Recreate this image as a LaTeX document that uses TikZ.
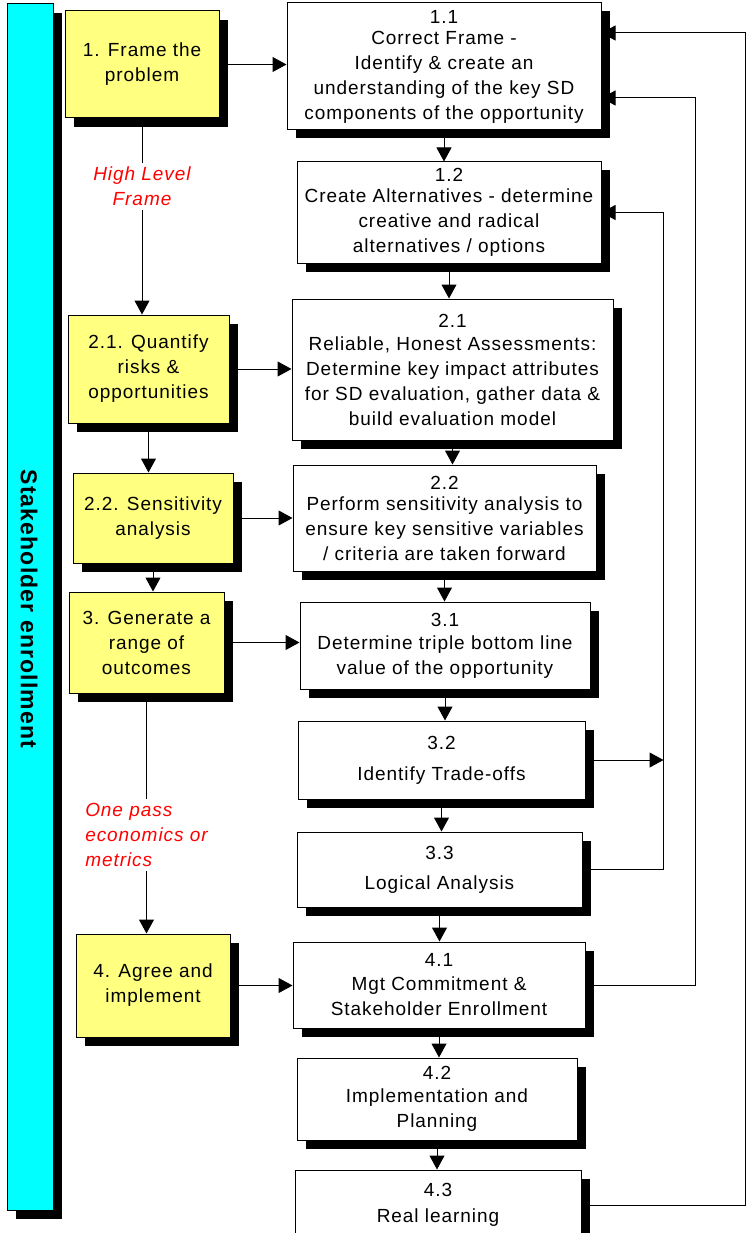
\documentclass[tikz,border=0pt]{standalone}
\usepackage{fontspec}
\setmainfont{Liberation Sans}[LetterSpace=5]
\usetikzlibrary{arrows.meta,shadows}
\definecolor{boxyellow}{RGB}{255,255,128}
\definecolor{barcyan}{RGB}{0,255,255}
\definecolor{notered}{RGB}{255,0,0}
\begin{document}
\begin{tikzpicture}[x=1pt,y=-1pt,
  txt/.style={font=\fontsize{19}{25}\selectfont, align=center, inner sep=0pt},
  ybox/.style={txt, draw=black, line width=1pt, fill=boxyellow,
    drop shadow={shadow xshift=9pt, shadow yshift=-9pt, fill=black, opacity=1}},
  wbox/.style={txt, draw=black, line width=1pt, fill=white,
    drop shadow={shadow xshift=8.5pt, shadow yshift=-8.5pt, fill=black, opacity=1}},
  barbox/.style={draw=black, line width=1pt, fill=barcyan,
    drop shadow={shadow xshift=9pt, shadow yshift=-9pt, fill=black, opacity=1}},
  arr/.style={-{Triangle[length=14pt,width=15pt]}, line width=1pt, line join=miter},
  note/.style={font=\fontsize{19}{25}\selectfont\itshape, text=notered, fill=white, inner sep=4pt}
]
\useasboundingbox (0,0) rectangle (751,1233);
\clip (0,0) rectangle (751,1233);

% side bar
\node[barbox, minimum width=46pt, minimum height=1206pt] (bar) at (30,607) {};
\node[rotate=-90, font=\fontsize{23}{28}\selectfont\bfseries] (barlabel) at (29,609) {Stakeholder enrollment};

% process steps (left column)
\node[ybox, minimum width=154pt, minimum height=107pt] (Y1)  at (142,64.5)   {1. Frame the\\problem};
\node[ybox, minimum width=161pt, minimum height=108pt] (Y21) at (148.5,369)  {2.1. Quantify\\risks \&\\opportunities};
\node[ybox, minimum width=160pt, minimum height=90pt]  (Y22) at (153,518)    {2.2. Sensitivity\\analysis};
\node[ybox, minimum width=155pt, minimum height=101pt] (Y3)  at (146.5,642.5){3. Generate a\\range of\\outcomes};
\node[ybox, minimum width=154pt, minimum height=103pt] (Y4)  at (153,985.5)  {4. Agree and\\implement};

% detailed activities (right column)
\node[wbox, minimum width=314pt, minimum height=127pt] (W11) at (444,66.5)
  {1.1\\[-4pt]Correct Frame -\\Identify \& create an\\understanding of the key SD\\components of the opportunity};
\node[wbox, minimum width=304pt, minimum height=101pt] (W12) at (449,212.5)
  {1.2\\[-4pt]Create Alternatives - determine\\creative and radical\\alternatives / options};
\node[wbox, minimum width=321pt, minimum height=141pt] (W21) at (452.5,369.5)
  {2.1\\[-2pt]Reliable, Honest Assessments:\\Determine key impact attributes\\for SD evaluation, gather data \&\\build evaluation model};
\node[wbox, minimum width=303pt, minimum height=106pt] (W22) at (444.5,518)
  {2.2\\[-4pt]Perform sensitivity analysis to\\ensure key sensitive variables\\/ criteria are taken forward};
\node[wbox, minimum width=290pt, minimum height=87pt] (W31) at (445,645.5)
  {3.1\\[-2pt]Determine triple bottom line\\value of the opportunity};
\node[wbox, minimum width=287pt, minimum height=78pt] (W32) at (441.5,760)
  {3.2\\[6pt]Identify Trade-offs};
\node[wbox, minimum width=285pt, minimum height=75pt] (W33) at (439.5,869.5)
  {3.3\\[5pt]Logical Analysis};
\node[wbox, minimum width=292pt, minimum height=86pt] (W41) at (439,985)
  {4.1\\[-1pt]Mgt Commitment \&\\Stakeholder Enrollment};
\node[wbox, minimum width=280pt, minimum height=82pt] (W42) at (437,1099)
  {4.2\\[-2pt]Implementation and\\Planning};
\node[wbox, minimum width=286pt, minimum height=70pt] (W43) at (438,1205)
  {4.3\\[1pt]Real learning};

% left column flow
\draw[arr] (Y1.south) -- node[note, pos=0.345, align=center] (n1) {High Level\\Frame} (Y1.south |- Y21.north);
\draw[arr] (Y21.south) -- (Y21.south |- Y22.north);
\draw[arr] (Y22.south) -- (Y22.south |- Y3.north);
\draw[arr] (Y3.south) -- node[note, pos=0.589, align=left] (n2) {One pass\\economics or\\metrics} (Y3.south |- Y4.north);

% steps to activities
\draw[arr] (Y1.east)  -- (Y1.east -| W11.west);
\draw[arr] (Y21.east) -- (Y21.east -| W21.west);
\draw[arr] (Y22.east) -- (Y22.east -| W22.west);
\draw[arr] (Y3.east)  -- (Y3.east -| W31.west);
\draw[arr] (Y4.east)  -- (Y4.east -| W41.west);

% right column flow
\draw[arr] (W11.south) -- (W11.south |- W12.north);
\draw[arr] (W12.south) -- (W12.south |- W21.north);
\draw[arr] (W21.south) -- (W21.south |- W22.north);
\draw[arr] (W22.south) -- (W22.south |- W31.north);
\draw[arr] (W31.south) -- (W31.south |- W32.north);
\draw[arr] (W32.south) -- (W32.south |- W33.north);
\draw[arr] (W33.south) -- (W33.south |- W41.north);
\draw[arr] (W41.south) -- (W41.south |- W42.north);
\draw[arr] (W42.south) -- (W42.south |- W43.north);

% feedback loops
\draw[arr] (W33.east) -- ++(81,0) coordinate (loopA) |- (W12.east);
\draw[arr] (W32.east) -- (W32.east -| loopA);
\draw[arr] (W41.east) -- ++(110,0) |- ([yshift=-31.5pt]W11.east);
\draw[arr] (W43.east) -- ++(164,0) |- ([yshift=33.5pt]W11.east);
\end{tikzpicture}
\end{document}
